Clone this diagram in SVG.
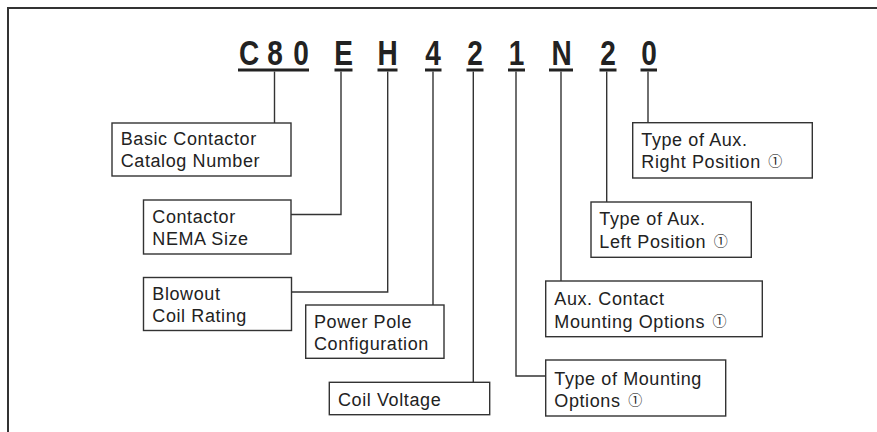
<svg xmlns="http://www.w3.org/2000/svg" width="877" height="432" viewBox="0 0 877 432">
<style>
.box{fill:#fff;stroke:#333;stroke-width:1.4}
.lbl{font-family:"Liberation Sans",Arial,sans-serif;font-size:18px;letter-spacing:0.6px;fill:#222}
.fn{font-family:"Noto Sans CJK JP","DejaVu Sans",sans-serif;font-size:14px;letter-spacing:0}
.code{font-family:"Liberation Sans",Arial,sans-serif;font-weight:bold;font-size:35px;fill:#222;text-anchor:middle}
.ul{fill:#222}
.con{fill:none;stroke:#333;stroke-width:1.4}
</style>
<rect width="877" height="432" fill="#fff"/>
<path d="M8 433 V8 H878" fill="none" stroke="#333" stroke-width="2"/>
<g id="code">
<text class="code" transform="translate(249,64.5) scale(0.8,1)">C</text>
<text class="code" transform="translate(275,64.5) scale(0.8,1)">8</text>
<text class="code" transform="translate(301,64.5) scale(0.8,1)">0</text>
<text class="code" transform="translate(343.5,64.5) scale(0.8,1)">E</text>
<text class="code" transform="translate(387.5,64.5) scale(0.8,1)">H</text>
<text class="code" transform="translate(433,64.5) scale(0.8,1)">4</text>
<text class="code" transform="translate(475,64.5) scale(0.8,1)">2</text>
<text class="code" transform="translate(516.5,64.5) scale(0.8,1)">1</text>
<text class="code" transform="translate(561.5,64.5) scale(0.8,1)">N</text>
<text class="code" transform="translate(608,64.5) scale(0.8,1)">2</text>
<text class="code" transform="translate(649,64.5) scale(0.8,1)">0</text>
<rect class="ul" x="238" y="68.5" width="71" height="3"/>
<rect class="ul" x="334.5" y="68.5" width="18" height="3"/>
<rect class="ul" x="377.5" y="68.5" width="20" height="3"/>
<rect class="ul" x="425" y="68.5" width="16.5" height="3"/>
<rect class="ul" x="466.5" y="68.5" width="17" height="3"/>
<rect class="ul" x="508" y="68.5" width="17" height="3"/>
<rect class="ul" x="549" y="68.5" width="24" height="3"/>
<rect class="ul" x="599.5" y="68.5" width="17" height="3"/>
<rect class="ul" x="640.5" y="68.5" width="16.5" height="3"/>
</g>
<g id="connectors">
<path class="con" d="M274.5 71.5 V123"/>
<path class="con" d="M341 71.5 V214.5 H291"/>
<path class="con" d="M387.7 71.5 V292 H291.7"/>
<path class="con" d="M433 71.5 V305"/>
<path class="con" d="M473.3 71.5 V382.3"/>
<path class="con" d="M516 71.5 V376 H545.7"/>
<path class="con" d="M561 71.5 V281"/>
<path class="con" d="M606.7 71.5 V202"/>
<path class="con" d="M648 71.5 V122.7"/>
</g>
<g id="basic">
<rect class="box" x="112" y="123" width="179" height="53"/>
<text class="lbl" x="120.7" y="145">Basic Contactor</text>
<text class="lbl" x="120.7" y="167">Catalog Number</text>
</g>
<g id="nema">
<rect class="box" x="143.5" y="200" width="147.5" height="54"/>
<text class="lbl" x="152.3" y="222.7">Contactor</text>
<text class="lbl" x="152.3" y="245">NEMA Size</text>
</g>
<g id="blowout">
<rect class="box" x="143.5" y="277.5" width="148" height="53"/>
<text class="lbl" x="152.3" y="300">Blowout</text>
<text class="lbl" x="152.3" y="322">Coil Rating</text>
</g>
<g id="powerpole">
<rect class="box" x="305.7" y="305" width="138.3" height="53.3"/>
<text class="lbl" x="314" y="327.7">Power Pole</text>
<text class="lbl" x="314" y="349.5">Configuration</text>
</g>
<g id="coilvoltage">
<rect class="box" x="329.3" y="382.3" width="160.4" height="32.4"/>
<text class="lbl" x="338" y="405.7">Coil Voltage</text>
</g>
<g id="mounting">
<rect class="box" x="545.7" y="360" width="180" height="56"/>
<text class="lbl" x="554.3" y="385">Type of Mounting</text>
<text class="lbl" x="554.3" y="407">Options <tspan class="fn" dx="2" dy="-2">①</tspan></text>
</g>
<g id="auxmount">
<rect class="box" x="545.7" y="281" width="216.6" height="55.7"/>
<text class="lbl" x="554.3" y="305">Aux. Contact</text>
<text class="lbl" x="554.3" y="327.7">Mounting Options <tspan class="fn" dx="2" dy="-2">①</tspan></text>
</g>
<g id="leftpos">
<rect class="box" x="591" y="202" width="160.3" height="55.3"/>
<text class="lbl" x="599.3" y="224.5">Type of Aux.</text>
<text class="lbl" x="599.3" y="247.5">Left Position <tspan class="fn" dx="2" dy="-2">①</tspan></text>
</g>
<g id="rightpos">
<rect class="box" x="632.7" y="122.7" width="179.6" height="55.3"/>
<text class="lbl" x="641.3" y="145.7">Type of Aux.</text>
<text class="lbl" x="641.3" y="168.3">Right Position <tspan class="fn" dx="2" dy="-2">①</tspan></text>
</g>
</svg>
